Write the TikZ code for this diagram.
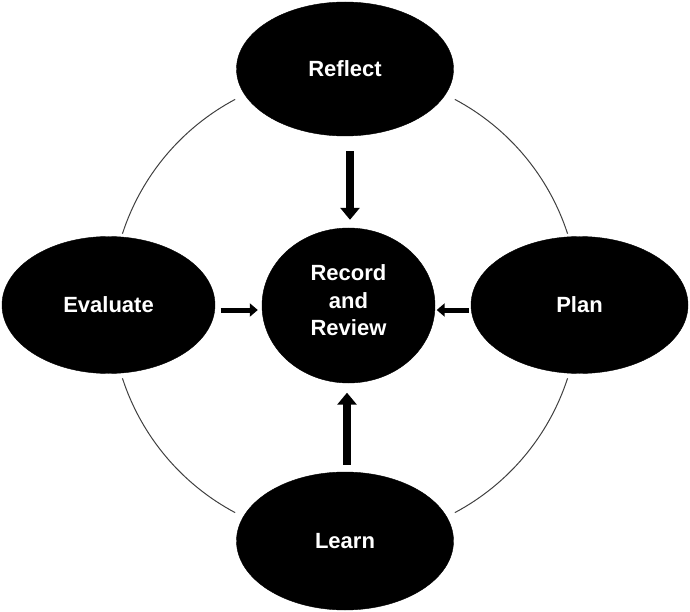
\documentclass[tikz,border=0pt]{standalone}
\usepackage{fontspec}
\setmainfont{Liberation Sans}
\usetikzlibrary{shapes.geometric,arrows.meta,calc}
\tikzset{
  blobtext/.style={text=white, font=\bfseries\fontsize{22}{27.5}\selectfont, align=center, inner sep=0pt},
  blob/.style={ellipse, fill=black, draw=black, inner sep=0pt, blobtext},
  ring/.style={draw=black!75, line width=1pt},
  varrow/.style={line width=8pt, -{Triangle[width=19pt,length=12pt]}},
  harrow/.style={line width=5pt, -{Triangle[width=13pt,length=8pt]}},
}
\begin{document}
\begin{tikzpicture}[x=1pt,y=1pt]
\useasboundingbox (0,0) rectangle (690,-612);
\coordinate (c) at (345,-306);
% outer ring arcs
\draw[ring] ($(c)+(118:234)$) arc[start angle=118,end angle=162,radius=234];
\draw[ring] ($(c)+(198:234)$) arc[start angle=198,end angle=242,radius=234];
\draw[ring] ($(c)+(298:234)$) arc[start angle=298,end angle=342,radius=234];
\draw[ring] ($(c)+(18:234)$) arc[start angle=18,end angle=62,radius=234];
% nodes
\node[blob, minimum width=217pt, minimum height=134pt] (reflect) at (345,-69) {Reflect};
\node[blob, minimum width=213pt, minimum height=137pt] (evaluate) at (108.5,-305) {Evaluate};
\node[blob, minimum width=217pt, minimum height=137pt] (plan) at (579.5,-305) {Plan};
\node[blob, minimum width=217pt, minimum height=138pt] (learn) at (345,-541) {Learn};
\node[blob, minimum width=173pt, minimum height=155pt,
  label={[blobtext, yshift=5pt]center:Record\\and\\Review}] (rr) at (348.5,-305.5) {};
% arrows
\draw[varrow] ([xshift=5pt,yshift=-15pt]reflect.south) -- ([xshift=1.5pt,yshift=8pt]rr.north);
\draw[varrow] ([xshift=2pt,yshift=7pt]learn.north) -- ([xshift=-1.5pt,yshift=-9.5pt]rr.south);
\draw[harrow] ([xshift=5.5pt,yshift=-5pt]evaluate.east) -- ([xshift=-4pt,yshift=-4.5pt]rr.west);
\draw[harrow] ([xshift=-2pt,yshift=-5pt]plan.west) -- ([xshift=1.5pt,yshift=-4.5pt]rr.east);
\end{tikzpicture}
\end{document}
